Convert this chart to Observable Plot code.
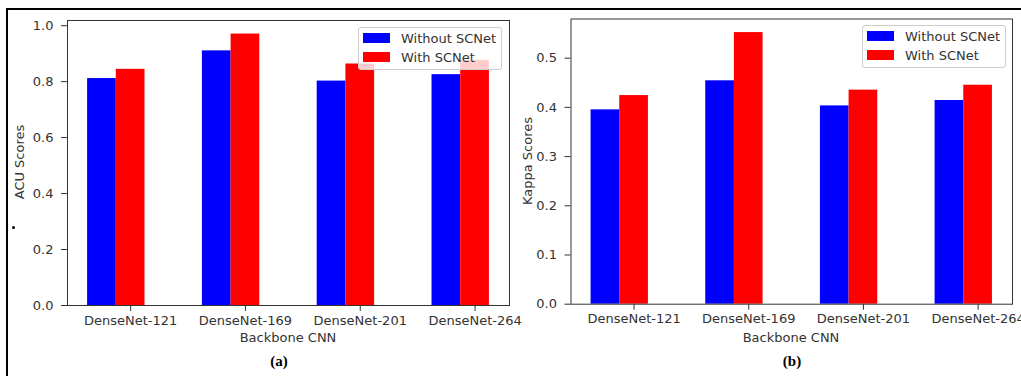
<!DOCTYPE html>
<html>
<head>
<meta charset="utf-8">
<script src="https://cdn.jsdelivr.net/npm/d3@7"></script>
<script src="https://cdn.jsdelivr.net/npm/@observablehq/plot@0.6"></script>
<style>
  html, body { margin: 0; padding: 0; background: #fff; }
  #root { position: relative; width: 1021px; height: 376px; overflow: hidden; font-family: "DejaVu Sans", sans-serif; color: #333; }
  .lbl { position: absolute; font-size: 13px; white-space: nowrap; transform: translate(-50%, -50%); color: #333; }
  .cap { position: absolute; font-family: "Liberation Serif", "DejaVu Serif", serif; font-weight: bold; font-size: 15px; color: #000; transform: translate(-50%, -50%); }
  .legend { position: absolute; background: rgba(255,255,255,0.8); border: 1px solid #ccc; border-radius: 3px; box-sizing: border-box; }
  .legend .sw { position: absolute; width: 27px; height: 10px; }
  .legend .tx { position: absolute; font-size: 13px; line-height: 13px; white-space: nowrap; color: #333; }
</style>
</head>
<body>
<div id="root"></div>
<script>
// ---- data ----
const categories = ["DenseNet-121", "DenseNet-169", "DenseNet-201", "DenseNet-264"];
const seriesNames = ["Without SCNet", "With SCNet"];
const acuWithout = [0.811, 0.910, 0.802, 0.825];
const acuWith = [0.844, 0.970, 0.863, 0.876];
const kappaWithout = [0.395, 0.454, 0.403, 0.414];
const kappaWith = [0.424, 0.552, 0.435, 0.445];
const acuTicks = [0.0, 0.2, 0.4, 0.6, 0.8, 1.0];
const kappaTicks = [0.0, 0.1, 0.2, 0.3, 0.4, 0.5];
const xLabel = "Backbone CNN";
const yLabels = ["ACU Scores", "Kappa Scores"];
const captions = ["(a)", "(b)"];
const colors = ["#0000ff", "#ff0000"];

const root = document.getElementById("root");
const barW = 0.25;

function chart(without, withS, yMax, yTicks, w, h, m) {
  const rows = categories.flatMap((c, i) => [
    {i, series: seriesNames[0], v: without[i], off: -barW},
    {i, series: seriesNames[1], v: withS[i], off: 0}
  ]);
  const n = categories.length;
  const lo = -barW - barW / 2, hi = (n - 1) + barW / 2;
  const pad = (hi - lo) * 0.05;
  return Plot.plot({
    width: w, height: h,
    marginLeft: m[0], marginRight: m[1], marginTop: m[2], marginBottom: m[3],
    style: {fontSize: "13px", fontFamily: "DejaVu Sans", color: "#333", background: "transparent", overflow: "visible"},
    x: {type: "linear", domain: [lo - pad, hi + pad], ticks: d3.range(n), tickFormat: i => categories[i], label: null, tickSize: 6, tickPadding: 4},
    y: {domain: [0, yMax * 1.05], ticks: yTicks, tickFormat: d3.format(".1f"), label: null, tickSize: 6, tickPadding: 8},
    color: {domain: seriesNames, range: colors},
    marks: [
      Plot.rectY(rows, {x1: d => d.i + d.off - barW / 2, x2: d => d.i + d.off + barW / 2, y: "v", fill: "series"}),
      Plot.frame({stroke: "#333", strokeWidth: 1})
    ]
  });
}

function place(el, left, top) {
  el.style.position = "absolute"; el.style.left = left + "px"; el.style.top = top + "px";
  root.appendChild(el);
}
function text(cls, str, x, y, rot) {
  const d = document.createElement("div");
  d.className = cls; d.textContent = str;
  d.style.left = x + "px"; d.style.top = y + "px";
  if (rot) d.style.transform = "translate(-50%, -50%) rotate(-90deg)";
  root.appendChild(d);
}
function legend(x, y) {
  const L = document.createElement("div");
  L.className = "legend";
  L.style.left = x + "px"; L.style.top = y + "px";
  L.style.width = "144px"; L.style.height = "43px";
  seriesNames.forEach((s, k) => {
    const sw = document.createElement("div");
    sw.className = "sw"; sw.style.background = colors[k];
    sw.style.left = "4px"; sw.style.top = (5 + k * 19) + "px";
    const tx = document.createElement("div");
    tx.className = "tx"; tx.textContent = s;
    tx.style.left = "42px"; tx.style.top = (4 + k * 19) + "px";
    L.appendChild(sw); L.appendChild(tx);
  });
  root.appendChild(L);
}

// outer frame (top + left rule)
const frame = document.createElement("div");
frame.style.cssText = "position:absolute;left:6px;top:8px;width:1100px;height:400px;border-top:2px solid #000;border-left:2px solid #000;";
root.appendChild(frame);

// charts
place(chart(acuWithout, acuWith, d3.max(acuWith), acuTicks, 520, 350, [67, 11, 20, 45]), 0, 0);
place(chart(kappaWithout, kappaWith, d3.max(kappaWith), kappaTicks, 521, 350, [70.5, 9, 18.5, 46.3]), 500, 0);

// legends
legend(358, 27);
legend(862, 25);

// axis titles & captions
text("lbl", xLabel, 288, 337);
text("lbl", xLabel, 791, 337);
text("lbl", yLabels[0], 19, 162, true);
text("lbl", yLabels[1], 527, 161, true);
text("cap", captions[0], 279, 361);
text("cap", captions[1], 792, 361);

// small bullet mark seen at left margin
const dot = document.createElement("div");
dot.style.cssText = "position:absolute;left:12px;top:226px;width:3px;height:3px;border-radius:50%;background:#000;";
root.appendChild(dot);
</script>
</body>
</html>
